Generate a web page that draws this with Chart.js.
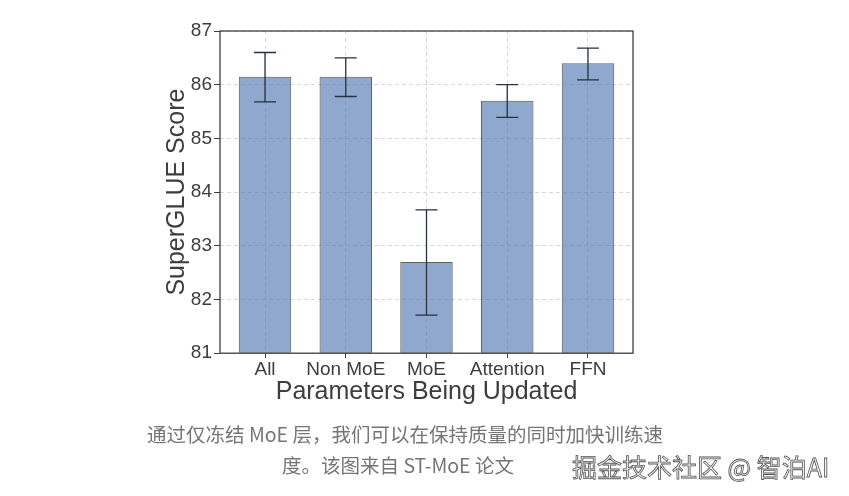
<!DOCTYPE html>
<html>
<head>
<meta charset="utf-8">
<script src="https://cdn.jsdelivr.net/npm/chart.js@4/dist/chart.umd.min.js"></script>
<style>
    html, body { margin: 0; padding: 0; background: #ffffff; }
    body { width: 849px; height: 496px; position: relative; overflow: hidden; }
    #wrap { position: absolute; left: 0; top: 0; width: 849px; height: 430px; }
    .caption {
        position: absolute; white-space: nowrap; transform: translate(-50%, -50%);
        font-family: "Noto Sans CJK SC", sans-serif; font-size: 19.5px; color: #757575;
    }
    .mark {
        position: absolute; left: 572px; top: 466px; transform: translateY(-50%); white-space: nowrap;
        font-family: "Noto Sans CJK SC", sans-serif; font-size: 25px; color: #f4f4f4;
        -webkit-text-stroke: 0.8px #555555;
    }
</style>
</head>
<body>
<div id="wrap"><canvas id="chart"></canvas></div>
<div class="caption" style="left:405px; top:433px">通过仅冻结 MoE 层，我们可以在保持质量的同时加快训练速</div>
<div class="caption" style="left:398px; top:464px">度。该图来自 ST-MoE 论文</div>
<div class="mark">掘金技术社区 @ 智泊AI</div>
<script>
const categories = ['All', 'Non MoE', 'MoE', 'Attention', 'FFN']
const scores = [86.15, 86.15, 82.7, 85.7, 86.4]
const errUpper = [86.6, 86.5, 83.67, 86.0, 86.68]
const errLower = [85.68, 85.78, 81.71, 85.39, 86.09]
const yTicks = [81, 82, 83, 84, 85, 86, 87]

const ink = '#3d3d3d'
const font = 'Liberation Sans, Arial, sans-serif'

const errorBars = {
    id: 'errorBars',
    afterDatasetsDraw({ ctx, scales: { x, y }, chartArea }) {
        ctx.save()
        ctx.strokeStyle = '#26323f'
        ctx.lineWidth = 1.3
        categories.forEach((_, i) => {
            const px = x.getPixelForValue(i)
            const top = y.getPixelForValue(errUpper[i])
            const bottom = y.getPixelForValue(errLower[i])
            ctx.beginPath()
            ctx.moveTo(px, top)
            ctx.lineTo(px, bottom)
            ctx.moveTo(px - 11, top)
            ctx.lineTo(px + 11, top)
            ctx.moveTo(px - 11, bottom)
            ctx.lineTo(px + 11, bottom)
            ctx.stroke()
        })

        // frame round the plot
        const { left, top, right, bottom } = chartArea
        ctx.strokeStyle = ink
        ctx.lineWidth = 1.3
        ctx.strokeRect(left, top, right - left, bottom - top)
        ctx.restore()
    }
}

new Chart(document.getElementById('chart'), {
    type: 'bar',
    data: {
        datasets: [{
            data: scores.map((y, x) => ({ x, y })),
            base: 81,
            backgroundColor: 'rgba(76, 114, 176, 0.62)',
            borderColor: 'rgba(70, 70, 70, 0.85)',
            borderWidth: 1,
            borderSkipped: false,
            barPercentage: 0.65,
            categoryPercentage: 1,
        }]
    },
    options: {
        responsive: true,
        maintainAspectRatio: false,
        animation: false,
        layout: { padding: { top: 31, left: 162, right: 216, bottom: 25 } },
        plugins: { legend: false, tooltip: false },
        scales: {
            x: {
                type: 'linear',
                offset: false,
                min: -0.5575,
                max: 4.5575,
                afterBuildTicks(scale) {
                    scale.ticks = categories.map((_, i) => ({ value: i }))
                },
                ticks: {
                    callback: v => categories[v],
                    color: ink,
                    font: { family: font, size: 19 },
                    padding: 0,
                    maxRotation: 0,
                },
                grid: { offset: false, color: '#d9d9d9', tickColor: ink, tickLength: 5, lineWidth: 1 },
                border: { display: false, dash: [4, 3] },
                title: {
                    display: true,
                    text: 'Parameters Being Updated',
                    color: ink,
                    font: { family: font, size: 25, lineHeight: 1 },
                    padding: { top: -1, bottom: 0 },
                },
            },
            y: {
                min: 81,
                max: 87,
                afterBuildTicks(scale) {
                    scale.ticks = yTicks.map(value => ({ value }))
                },
                afterFit(scale) {
                    scale.width = 58
                },
                ticks: {
                    color: ink,
                    font: { family: font, size: 19 },
                    padding: 2,
                },
                grid: { color: '#d9d9d9', tickColor: ink, tickLength: 6, lineWidth: 1 },
                border: { display: false, dash: [4, 3] },
                title: {
                    display: true,
                    text: 'SuperGLUE Score',
                    color: ink,
                    font: { family: font, size: 25 },
                    padding: { top: 0, bottom: 0 },
                },
            },
        },
    },
    plugins: [errorBars],
})
</script>
</body>
</html>
